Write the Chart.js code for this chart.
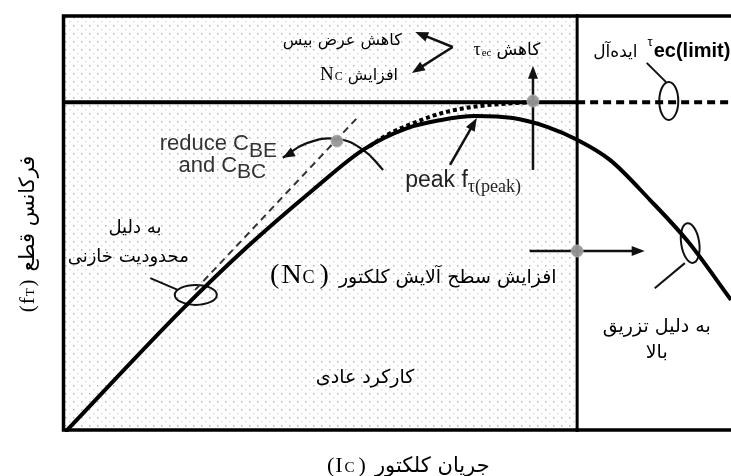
<!DOCTYPE html>
<html>
<head>
<meta charset="utf-8">
<script src="https://cdn.jsdelivr.net/npm/chart.js@4/dist/chart.umd.min.js"></script>
<style>
  html, body { margin: 0; padding: 0; background: #fff; overflow: hidden; }
  #wrap { width: 731px; height: 476px; }
  canvas { display: block; }
</style>
</head>
<body>
<div id="wrap"><canvas id="c" width="731" height="476"></canvas></div>
<script>
// Collector current (normalised 0..100) and cut-off frequency (normalised 0..100)
const icValues = [0.5, 17.9, 27.7, 37.5, 45.0, 51.6, 56.5, 61.7, 67.4, 72.5, 77.0, 81.9, 87.9, 93.6, 100];
const ftValues = [0, 29.2, 44.3, 57.9, 67.5, 72.7, 74.6, 75.6, 75.1, 73.0, 69.9, 65.1, 55.5, 45.5, 31.6];

// Ideal curve limited only by tau_ec
const idealIc = [46.0, 48.3, 52.5, 57.5, 62.5, 67.7, 70.4];
const idealFt = [68.4, 70.8, 73.9, 76.6, 78.0, 78.7, 78.9];

// Capacitance-limited tangent
const tangentIc = [19.9, 44.5];
const tangentFt = [34.0, 75.8];

// tau_ec(limit) level and the boundary of normal operation
const limitFt = 78.9;
const normalEdgeIc = 77.0;

// Arc of the "reduce C_BE and C_BC" arrow
const arcIc = [48.0, 45.0, 41.1, 36.6, 33.0];
const arcFt = [62.7, 67.5, 70.1, 69.1, 65.6];

// Grey marker dots
const markIc = [41.1, 70.4, 77.0];
const markFt = [69.6, 79.2, 43.3];

// Straight arrows: [fromIc, fromFt, toIc, toFt]
const arrows = [
  [70.4, 62.7, 70.4, 87.6],
  [69.9, 43.3, 87.1, 43.3],
  [58.4, 92.1, 52.8, 95.7],
  [58.4, 92.1, 52.3, 85.9],
  [58.0, 63.9, 62.0, 75.1]
];

// Ellipse call-outs: [centreIc, centreFt, leaderFromIc, leaderFromFt, leaderToIc, leaderToFt]
const callouts = [
  [20.0, 32.8, 13.2, 36.8, 17.3, 34.0],
  [90.7, 79.2, 87.4, 88.3, 90.3, 83.7],
  [93.9, 45.2, 88.6, 34.4, 93.1, 40.4]
];

const pts = (xs, ys) => xs.map((x, i) => ({ x, y: ys[i] }));

const FA = '"DejaVu Sans", sans-serif';
const SERIF = '"Liberation Serif", "DejaVu Serif", serif';
const SANS = '"Liberation Sans", Arial, sans-serif';

// Text labels: runs of [text, font, dy, gapAfter], anchor, position in data units (baseline)
const labels = [
  { runs: [['کاهش عرض بیس', '16px ' + FA]], align: 'center', x: 41.9, y: 92.6 },
  { runs: [['N', '19px ' + SERIF, 0, 1], ['C', '12px ' + SERIF, 0, 5], ['افزایش', '16px ' + FA]], align: 'center', x: 44.4, y: 84.2 },
  { runs: [['τ', '18px ' + SERIF, 0, 1], ['ec', '11px ' + SERIF, 1, 5], ['کاهش', '17px ' + FA]], align: 'center', x: 66.5, y: 90.2 },
  { runs: [['ایده‌آل', '17px ' + FA, 0, 10], ['τ', '13px ' + SANS, -11, 1], ['ec(limit)', 'bold 20px ' + SANS]], align: 'left', x: 79.4, y: 89.6 },
  { runs: [['reduce C', '22px ' + SANS], ['BE', '21px ' + SANS, 7]], align: 'left', x: 14.6, y: 67.5, color: '#333' },
  { runs: [['and C', '22px ' + SANS], ['BC', '21px ' + SANS, 6]], align: 'left', x: 17.4, y: 62.2, color: '#333' },
  { runs: [['peak f', '23px ' + SANS], ['τ(peak)', '18px ' + SERIF, 5]], align: 'left', x: 51.3, y: 58.6, color: '#222' },
  { runs: [['به دلیل', '18px ' + FA]], align: 'center', x: 10.9, y: 47.6 },
  { runs: [['محدودیت خازنی', '18px ' + FA]], align: 'center', x: 9.9, y: 40.7 },
  { runs: [['(', '28px ' + SERIF, 0, 2], ['N', '28px ' + SERIF, 0, 1], ['C', '18px ' + SERIF, 0, 5], [')', '28px ' + SERIF, 0, 10],
           ['افزایش سطح آلایش کلکتور', '19px ' + FA]], align: 'left', x: 31.1, y: 35.6 },
  { runs: [['به دلیل تزریق', '19px ' + FA]], align: 'center', x: 88.9, y: 23.9 },
  { runs: [['بالا', '19px ' + FA]], align: 'center', x: 88.9, y: 17.7 },
  { runs: [['کارکرد عادی', '19px ' + FA]], align: 'center', x: 45.3, y: 11.7 },
  { runs: [['(', '22px ' + SERIF, 0, 1], ['I', '22px ' + SERIF, 0, 2], ['C', '15px ' + SERIF, 0, 4], [')', '22px ' + SERIF, 0, 9],
           ['جریان کلکتور', '21px ' + FA]], align: 'left', x: 39.6, y: -9.6 }
];
const yTitle = [['(', '21px ' + SERIF, 0, 1], ['f', '21px ' + SERIF, 0, 1], ['T', '13px ' + SERIF, 0, 2], [')', '21px ' + SERIF, 0, 8],
                ['فرکانس قطع', '21px ' + FA]];

function drawRuns(ctx, runs, x, y, align) {
  let total = 0;
  const ws = runs.map(r => { ctx.font = r[1]; const w = ctx.measureText(r[0]).width + (r[3] || 0); total += w; return w; });
  let sx = align === 'center' ? x - total / 2 : (align === 'right' ? x - total : x);
  ctx.textAlign = 'left';
  runs.forEach((r, i) => { ctx.font = r[1]; ctx.fillText(r[0], sx, y + (r[2] || 0)); sx += ws[i]; });
}

function arrowHead(ctx, x1, y1, x2, y2, len, half) {
  const a = Math.atan2(y2 - y1, x2 - x1);
  ctx.beginPath();
  ctx.moveTo(x2, y2);
  ctx.lineTo(x2 - len * Math.cos(a) + half * Math.sin(a), y2 - len * Math.sin(a) - half * Math.cos(a));
  ctx.lineTo(x2 - len * Math.cos(a) - half * Math.sin(a), y2 - len * Math.sin(a) + half * Math.cos(a));
  ctx.closePath();
  ctx.fill();
}

function makeDots() {
  const p = document.createElement('canvas');
  p.width = 8; p.height = 8;
  const g = p.getContext('2d');
  g.fillStyle = 'rgba(120,120,120,0.55)';
  g.fillRect(1, 1, 1.5, 1.5);
  g.fillStyle = 'rgba(150,150,150,0.35)';
  g.fillRect(5, 5, 1.5, 1.5);
  return p;
}

const diagramPlugin = {
  id: 'diagram',
  beforeDatasetsDraw(chart) {
    const { ctx, chartArea: a, scales: { x, y } } = chart;
    const px = v => x.getPixelForValue(v), py = v => y.getPixelForValue(v);
    ctx.save();
    // dotted region of normal operation
    ctx.fillStyle = ctx.createPattern(makeDots(), 'repeat');
    ctx.fillRect(a.left, a.top, px(normalEdgeIc) - a.left, a.bottom - a.top);

    // arrows
    ctx.strokeStyle = '#111'; ctx.fillStyle = '#111'; ctx.lineWidth = 2.5;
    arrows.forEach(([x1, y1, x2, y2]) => {
      const X1 = px(x1), Y1 = py(y1), X2 = px(x2), Y2 = py(y2);
      const a2 = Math.atan2(Y2 - Y1, X2 - X1);
      ctx.beginPath(); ctx.moveTo(X1, Y1); ctx.lineTo(X2 - 8 * Math.cos(a2), Y2 - 8 * Math.sin(a2)); ctx.stroke();
      arrowHead(ctx, X1, Y1, X2, Y2, 13, 5);
    });
    // head of the curved arrow
    const n = arcIc.length;
    arrowHead(ctx, px(arcIc[n - 2]) + 6, py(arcFt[n - 2]) - 2, px(arcIc[n - 1]), py(arcFt[n - 1]), 12, 5);

    // ellipse call-outs
    ctx.lineWidth = 2;
    callouts.forEach(([cx, cy, lx1, ly1, lx2, ly2], i) => {
      const sizes = [[21, 10, 0], [9.5, 19, 0], [9, 20, -0.15]][i];
      ctx.beginPath();
      ctx.ellipse(px(cx), py(cy), sizes[0], sizes[1], sizes[2], 0, Math.PI * 2);
      ctx.stroke();
      ctx.beginPath(); ctx.moveTo(px(lx1), py(ly1)); ctx.lineTo(px(lx2), py(ly2)); ctx.stroke();
    });
    ctx.restore();
  },
  afterDatasetsDraw(chart) {
    const { ctx, chartArea: a, scales: { x, y } } = chart;
    const px = v => x.getPixelForValue(v), py = v => y.getPixelForValue(v);
    ctx.save();
    // frame
    ctx.strokeStyle = '#000'; ctx.lineWidth = 3.5;
    ctx.beginPath();
    ctx.moveTo(a.right + 5, a.top + 2); ctx.lineTo(a.left + 1.5, a.top + 2);
    ctx.lineTo(a.left + 1.5, a.bottom - 2); ctx.lineTo(a.right + 5, a.bottom - 2);
    ctx.stroke();

    // labels
    ctx.textBaseline = 'alphabetic';
    labels.forEach(l => {
      ctx.fillStyle = l.color || '#000';
      drawRuns(ctx, l.runs, px(l.x), py(l.y), l.align);
    });
    // vertical axis title
    ctx.fillStyle = '#000';
    ctx.translate(34, 234);
    ctx.rotate(-Math.PI / 2);
    drawRuns(ctx, yTitle, 0, 0, 'center');
    ctx.restore();
  }
};

new Chart(document.getElementById('c'), {
  type: 'line',
  data: {
    datasets: [
      { data: pts(markIc, markFt), showLine: false, pointRadius: 6, pointBackgroundColor: 'rgba(150,150,150,0.95)',
        pointBorderColor: 'rgba(175,175,175,0.9)', pointBorderWidth: 1, order: 0 },
      { data: pts(icValues, ftValues), borderColor: '#000', borderWidth: 4, pointRadius: 0,
        cubicInterpolationMode: 'monotone', order: 2 },
      { data: pts(idealIc, idealFt), borderColor: '#000', borderWidth: 4, borderDash: [4, 3], pointRadius: 0,
        cubicInterpolationMode: 'monotone', order: 3 },
      { data: pts(tangentIc, tangentFt), borderColor: '#333', borderWidth: 2, borderDash: [7, 5], pointRadius: 0, order: 4 },
      { data: [{ x: 0, y: limitFt }, { x: normalEdgeIc, y: limitFt }], borderColor: '#000', borderWidth: 4, pointRadius: 0, order: 5 },
      { data: [{ x: normalEdgeIc, y: limitFt }, { x: 100, y: limitFt }], borderColor: '#000', borderWidth: 4,
        borderDash: [8, 5], pointRadius: 0, order: 5 },
      { data: [{ x: normalEdgeIc, y: 0 }, { x: normalEdgeIc, y: 100 }], borderColor: '#000', borderWidth: 3, pointRadius: 0, order: 6 },
      { data: pts(arcIc, arcFt), borderColor: '#111', borderWidth: 2.2, pointRadius: 0, tension: 0.45, order: 7 }
    ]
  },
  options: {
    responsive: false,
    animation: false,
    devicePixelRatio: 1,
    layout: { autoPadding: false, padding: { left: 62, right: 0, top: 14, bottom: 44 } },
    scales: {
      x: { type: 'linear', min: 0, max: 100, display: false },
      y: { type: 'linear', min: 0, max: 100, display: false }
    },
    plugins: { legend: { display: false }, tooltip: { enabled: false } },
    events: []
  },
  plugins: [diagramPlugin]
});
</script>
</body>
</html>
